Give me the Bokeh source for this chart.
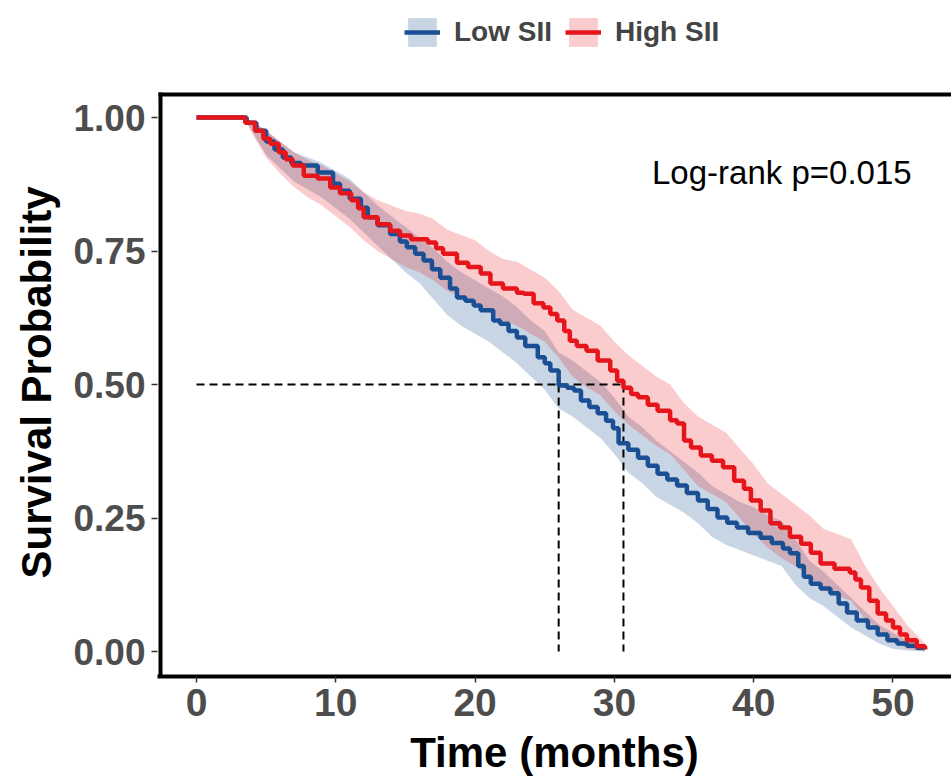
from bokeh.plotting import figure
from bokeh.models import Range1d, FixedTicker, Legend, LegendItem, Title
from bokeh.core.properties import value
from bokeh.embed import file_html
from bokeh.resources import INLINE

# ---------------- data ----------------
series_names = ["Low SII", "High SII"]

low_t = [0, 3.6, 4.3, 5.0, 5.6, 6.2, 6.8, 7.5, 8.7, 9.8, 10.3, 11.0, 11.8, 12.3, 13.0, 13.9, 14.6, 15.1, 15.7, 16.3,
         16.9, 17.5, 18.2, 18.7, 19.3, 19.9, 20.4, 21.3, 21.8, 22.4, 23.0, 23.6, 24.5, 25.0, 25.4, 26.0, 26.6, 27.1, 27.6, 28.2,
         28.8, 29.4, 29.9, 30.3, 31.0, 31.7, 32.4, 33.1, 33.8, 34.5, 35.2, 36.0, 36.7, 37.4, 38.1, 38.8, 39.6, 40.5, 41.3, 42.1,
         42.6, 43.2, 43.6, 44.1, 44.8, 45.5, 46.1, 46.7, 47.4, 48.2, 48.9, 49.6, 50.3, 51.0, 51.7, 52.3]
low_s = [1.0, 0.99, 0.975, 0.955, 0.94, 0.925, 0.915, 0.91, 0.897, 0.876, 0.863, 0.848, 0.831, 0.813, 0.798, 0.782, 0.768, 0.757, 0.745, 0.732,
         0.716, 0.70, 0.68, 0.663, 0.657, 0.648, 0.639, 0.62, 0.614, 0.60, 0.588, 0.572, 0.551, 0.54, 0.526, 0.498, 0.494, 0.489, 0.47, 0.458,
         0.446, 0.432, 0.418, 0.39, 0.378, 0.363, 0.348, 0.333, 0.322, 0.311, 0.297, 0.283, 0.267, 0.251, 0.241, 0.232, 0.222, 0.213, 0.203, 0.193,
         0.184, 0.16, 0.14, 0.127, 0.118, 0.109, 0.09, 0.073, 0.058, 0.045, 0.032, 0.021, 0.015, 0.011, 0.007, 0.004]

high_t = [0, 3.5, 4.2, 4.8, 5.3, 5.9, 6.4, 6.9, 7.7, 8.7, 9.6, 10.3, 11.1, 11.6, 12.0, 13.0, 13.9, 14.6, 15.4, 16.6,
          17.2, 17.7, 18.7, 19.5, 20.4, 21.1, 22.0, 23.0, 23.5, 24.2, 24.9, 25.4, 25.9, 26.4, 26.8, 27.3, 28.0, 28.8, 29.7, 30.2,
          30.65, 31.2, 31.7, 32.4, 33.1, 34.0, 34.5, 35.0, 35.5, 36.2, 37.0, 37.8, 38.6, 39.3, 39.8, 40.5, 41.2, 41.9, 42.6, 43.4,
          44.1, 44.8, 45.8, 46.9, 47.3, 47.7, 48.3, 48.9, 49.5, 50.0, 50.5, 51.0, 51.7, 52.3]
high_s = [1.0, 0.99, 0.975, 0.96, 0.951, 0.935, 0.922, 0.91, 0.891, 0.886, 0.869, 0.858, 0.845, 0.83, 0.813, 0.80, 0.788, 0.779, 0.772, 0.766,
          0.755, 0.745, 0.728, 0.72, 0.708, 0.689, 0.68, 0.672, 0.67, 0.652, 0.644, 0.632, 0.62, 0.6, 0.582, 0.572, 0.563, 0.545, 0.526, 0.507,
          0.494, 0.482, 0.476, 0.462, 0.451, 0.433, 0.427, 0.395, 0.382, 0.367, 0.357, 0.345, 0.32, 0.305, 0.283, 0.264, 0.24, 0.232, 0.215, 0.202,
          0.185, 0.165, 0.155, 0.148, 0.135, 0.12, 0.095, 0.071, 0.058, 0.045, 0.032, 0.021, 0.01, 0.004]

ci_t = [0, 3.4, 4.2, 5, 6, 7, 8, 9, 10, 11, 12, 13, 14, 15, 16, 17, 18, 19, 20, 21, 22, 23, 24, 25, 26, 27,
        28, 29, 30, 31, 32, 33, 34, 35, 36, 37, 38, 39, 40, 41, 42, 43, 44, 45, 46, 47, 48, 49, 50, 51, 52.3]
low_lo = [1.0, 1.0, 0.965, 0.93, 0.905, 0.88, 0.865, 0.85, 0.83, 0.81, 0.785, 0.76, 0.735, 0.71, 0.69, 0.66, 0.63, 0.61, 0.595, 0.58, 0.56,
          0.54, 0.515, 0.49, 0.455, 0.44, 0.42, 0.4, 0.37, 0.335, 0.315, 0.29, 0.275, 0.26, 0.24, 0.215, 0.2, 0.19, 0.18, 0.17, 0.16,
          0.125, 0.1, 0.085, 0.065, 0.045, 0.03, 0.015, 0.005, 0.002, 0.0]
low_hi = [1.0, 1.0, 0.99, 0.975, 0.955, 0.935, 0.925, 0.915, 0.9, 0.885, 0.86, 0.835, 0.815, 0.795, 0.775, 0.755, 0.73, 0.71, 0.695, 0.68, 0.665,
          0.645, 0.62, 0.6, 0.56, 0.545, 0.525, 0.505, 0.475, 0.44, 0.42, 0.395, 0.375, 0.355, 0.335, 0.31, 0.295, 0.28, 0.27, 0.255, 0.245,
          0.21, 0.17, 0.15, 0.125, 0.1, 0.075, 0.05, 0.035, 0.02, 0.01]
high_lo = [1.0, 1.0, 0.96, 0.925, 0.895, 0.87, 0.85, 0.835, 0.815, 0.795, 0.77, 0.75, 0.735, 0.72, 0.71, 0.695, 0.675, 0.665, 0.655, 0.635, 0.62,
           0.61, 0.595, 0.58, 0.55, 0.515, 0.495, 0.48, 0.45, 0.425, 0.405, 0.385, 0.37, 0.34, 0.31, 0.295, 0.28, 0.25, 0.22, 0.195, 0.175,
           0.16, 0.14, 0.115, 0.105, 0.095, 0.06, 0.04, 0.02, 0.005, 0.0]
high_hi = [1.0, 1.0, 0.99, 0.975, 0.955, 0.935, 0.92, 0.91, 0.895, 0.88, 0.86, 0.845, 0.835, 0.825, 0.82, 0.81, 0.79, 0.78, 0.77, 0.75, 0.735,
           0.73, 0.715, 0.7, 0.675, 0.64, 0.625, 0.61, 0.58, 0.555, 0.535, 0.515, 0.5, 0.465, 0.44, 0.425, 0.41, 0.38, 0.35, 0.315, 0.295,
           0.275, 0.255, 0.23, 0.22, 0.21, 0.16, 0.12, 0.085, 0.05, 0.015]

medians = [26.0, 30.65]
median_level = 0.5
x_ticks = [0, 10, 20, 30, 40, 50]
y_ticks = [0, 0.25, 0.5, 0.75, 1.0]
y_tick_labels = ["0.00", "0.25", "0.50", "0.75", "1.00"]
pval_text = "Log-rank p=0.015"
pval_pos = (32.7, 0.897)

# panel box (data units) and view range
box_x0, box_x1 = -2.584, 54.2
box_y0, box_y1 = -0.0468, 1.0431
view_x = (-2.80, 54.2)
view_y = (-0.0468, 1.2191)

# ---------------- style ----------------
BLUE = "#1B4F94"
RED = "#E6151B"
FONT = "Liberation Sans"

p = figure(width=951, height=783, output_backend="svg", toolbar_location=None,
           x_range=Range1d(*view_x), y_range=Range1d(*view_y),
           min_border_left=157, min_border_right=0, min_border_top=0, min_border_bottom=107)
p.outline_line_color = None
p.xgrid.visible = False
p.ygrid.visible = False
p.background_fill_color = "white"

# bands
b_low = p.varea(x=ci_t, y1=low_lo, y2=low_hi, fill_color=BLUE, fill_alpha=0.24)
b_high = p.varea(x=ci_t, y1=high_lo, y2=high_hi, fill_color=RED, fill_alpha=0.22)

# median dashed lines
p.line(x=[0, medians[1]], y=[median_level, median_level], line_color="black", line_width=2, line_dash="8 5")
p.segment(x0=medians, y0=[median_level] * 2, x1=medians, y1=[0, 0], line_color="black", line_width=2, line_dash="8 5")

# curves
l_low = p.step(x=low_t, y=low_s, mode="after", line_color=BLUE, line_width=4.5)
l_high = p.step(x=high_t, y=high_s, mode="after", line_color=RED, line_width=4.5)

# p-value
p.text(x=[pval_pos[0]], y=[pval_pos[1]], text=[pval_text], text_baseline="middle", text_align="left",
       text_font=value(FONT), text_font_size="33px", text_color="black")

# panel border: left and top
p.segment(x0=[box_x0, box_x0], y0=[box_y0, box_y1], x1=[box_x0, box_x1], y1=[box_y1, box_y1],
          line_color="black", line_width=4, line_cap="square")

# axes
for ax in (p.xaxis[0], p.yaxis[0]):
    ax.major_tick_line_color = "#333333"
    ax.major_tick_line_width = 1.5
    ax.major_tick_out = 6
    ax.major_tick_in = 0
    ax.minor_tick_line_color = None
    ax.major_label_text_font = FONT
    ax.major_label_text_font_style = "bold"
    ax.major_label_text_color = "#4D4D4D"
    ax.axis_label_text_font = FONT
    ax.axis_label_text_font_style = "bold"
    ax.axis_label_text_color = "black"

p.xaxis[0].axis_line_color = "black"
p.xaxis[0].axis_line_width = 4
p.xaxis[0].ticker = FixedTicker(ticks=x_ticks)
p.xaxis[0].major_label_text_font_size = "39px"
p.xaxis[0].major_label_standoff = 6
p.xaxis[0].axis_label = "Time (months)"
p.xaxis[0].axis_label_text_font_size = "42px"
p.xaxis[0].axis_label_standoff = 10

p.yaxis[0].axis_line_color = None
p.yaxis[0].ticker = FixedTicker(ticks=y_ticks)
p.yaxis[0].major_label_overrides = {t: s for t, s in zip(y_ticks, y_tick_labels)}
p.yaxis[0].major_label_text_font_size = "37px"
p.yaxis[0].major_label_standoff = 6

# y-axis title, aligned with the bordered panel rather than the whole frame
ytitle = Title(text="Survival Probability", align="left", offset=98, standoff=21,
               text_font=FONT, text_font_size="42px", text_font_style="bold", text_color="black")
p.add_layout(ytitle, "left")

legend = Legend(items=[LegendItem(label=series_names[0], renderers=[b_low, l_low]),
                       LegendItem(label=series_names[1], renderers=[b_high, l_high])],
                orientation="horizontal", location=(247, 626),
                glyph_width=36, glyph_height=36, label_text_font=FONT, label_text_font_size="28px",
                label_text_font_style="bold", label_standoff=14, spacing=13, padding=0, margin=0,
                border_line_color=None, background_fill_alpha=0)
p.add_layout(legend)

open("out.html", "w").write(file_html(p, INLINE))
